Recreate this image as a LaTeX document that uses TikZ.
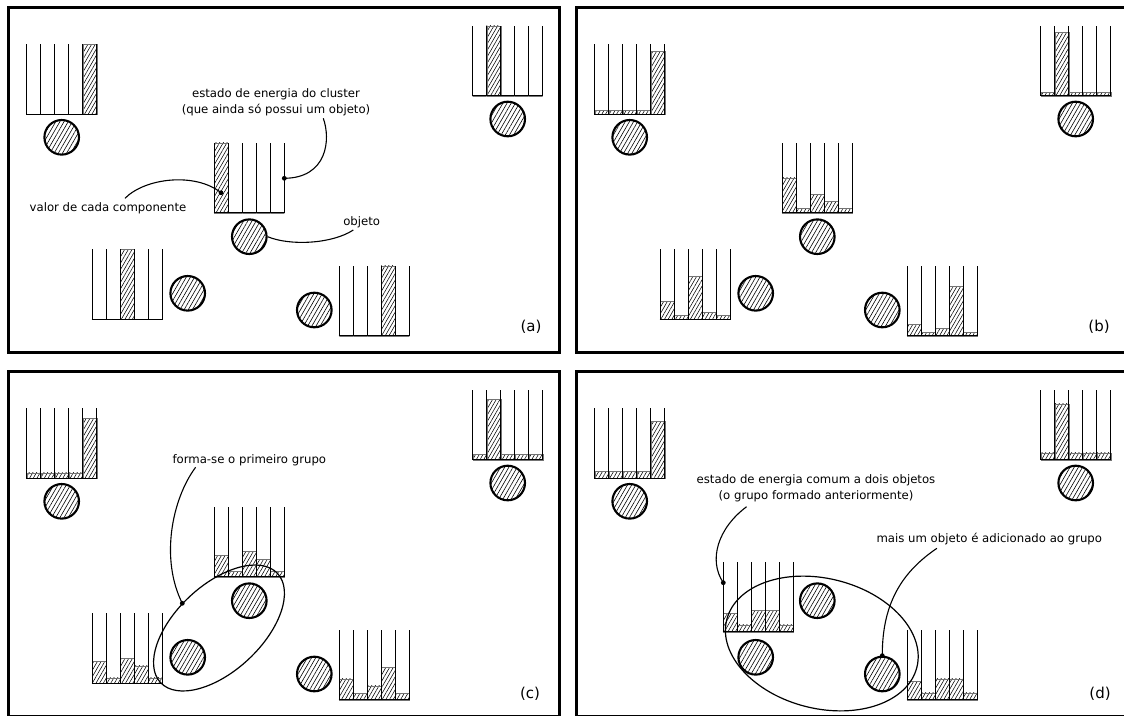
\documentclass[tikz,border=0pt]{standalone}
\usepackage{fontspec}
\setmainfont{DejaVu Sans}
\usetikzlibrary{patterns.meta}
\newcommand{\bars}[3]{%
  \foreach \v [count=\i from 0] in {#3} {
    \draw[hatchbar] ({#1+\i*14},#2) rectangle ({#1+\i*14+14},{#2-\v*70});
  }
  \foreach \i in {0,...,5} \draw[boxline] ({#1+\i*14},#2) -- ({#1+\i*14},{#2-70});
  \draw[boxline] ({#1-0.65},#2) -- ({#1+70.65},#2);
}
\newcommand{\objs}[1]{%
  \node[obj] (#1o1) at (61.7,137.3) {};
  \node[obj] (#1o2) at (507.7,119) {};
  \node[obj] (#1o3) at (249.3,236.7) {};
  \node[obj] (#1o4) at (187.7,293.3) {};
  \node[obj] (#1o5) at (314.3,310) {};
}
\begin{document}
\begin{tikzpicture}[x=1pt,y=-1pt,
  panel/.style={line width=3pt},
  boxline/.style={line width=1.3pt},
  hatchbar/.style={draw=black!55,line width=0.4pt,pattern={Lines[angle=60,distance=3.2pt,line width=0.55pt]}},
  obj/.style={circle,draw,line width=2.1pt,minimum size=34.6pt,inner sep=0pt,pattern={Lines[angle=60,distance=3.6pt,line width=0.6pt]}},
  lead/.style={line width=1.1pt},
  ann/.style={font=\fontsize{11.7}{16}\selectfont,align=center,inner sep=0pt},
  lab/.style={font=\fontsize{15}{18}\selectfont,inner sep=0pt},
  grpell/.style={line width=1.2pt}
]
\useasboundingbox (0,0) rectangle (1124,715);
\clip (0,0) rectangle (1124,715);

% ---------------- panel (a)
\begin{scope}
  \draw[panel] (8,7) rectangle (559,352.7);
  \bars{26.7}{114.3}{0,0,0,0,1}
  \bars{472.7}{95.7}{0,1,0,0,0}
  \bars{214.3}{212.7}{1,0,0,0,0}
  \bars{92.3}{319.3}{0,0,1,0,0}
  \bars{339.3}{335.7}{0,0,0,1,0}
  \objs{a}
  \node[ann] (ta1) at (276,102.2) {estado de energia do cluster\\(que ainda só possui um objeto)};
  \coordinate (ea1) at (323.3,118.3);
  \coordinate (da1) at (284.3,178.3);
  \draw[lead] (ea1) .. controls (331,140) and (327,178) .. (da1);
  \fill (da1) circle (2.4);
  \node[ann] (ta2) at (108,208.3) {valor de cada componente};
  \coordinate (ea2) at (125,198.3);
  \coordinate (da2) at (221,192.7);
  \draw[lead] (ea2) .. controls (145,178) and (195,172) .. (da2);
  \fill (da2) circle (2.4);
  \node[ann] (ta3) at (361.7,222.7) {objeto};
  \coordinate (ea3) at (353.3,230);
  \draw[lead] (ao3.east) .. controls (290,246) and (332,244) .. (ea3);
  \node[lab] (la) at (531,326.5) {(a)};
\end{scope}

% ---------------- panel (b)
\begin{scope}[shift={(568,0)}]
  \draw[panel] (8,7) rectangle (559,352.7);
  \bars{26.7}{114.3}{.06,.06,.06,.06,.9}
  \bars{472.7}{95.7}{.05,.91,.05,.05,.05}
  \bars{214.3}{212.7}{.5,.06,.26,.16,.06}
  \bars{92.3}{319.3}{.26,.06,.61,.1,.06}
  \bars{339.3}{335.7}{.16,.05,.11,.71,.05}
  \objs{b}
  \node[lab] (lb) at (531,326.5) {(b)};
\end{scope}

% ---------------- panel (c)
\begin{scope}[shift={(0,364)}]
  \draw[panel] (8,7) rectangle (559,352.7);
  \bars{26.7}{114.3}{.08,.08,.08,.08,.86}
  \bars{472.7}{95.7}{.08,.86,.08,.08,.08}
  \bars{214.3}{212.7}{.31,.08,.36,.25,.08}
  \bars{92.3}{319.3}{.31,.08,.36,.25,.08}
  \bars{339.3}{335.7}{.3,.09,.2,.46,.09}
  \objs{c}
  \draw[grpell,rotate around={43:(219,264)}] (219,264) ellipse [x radius=80,y radius=43];
  \node[ann] (tc1) at (249.3,96) {forma-se o primeiro grupo};
  \coordinate (ec1) at (195.6,103.3);
  \coordinate (dc1) at (182.3,239.3);
  \draw[lead] (ec1) .. controls (172,135) and (160,195) .. (dc1);
  \fill (dc1) circle (2.4);
  \node[lab] (lc) at (530,329.3) {(c)};
\end{scope}

% ---------------- panel (d)
\begin{scope}[shift={(568,364)}]
  \draw[panel] (8,7) rectangle (559,352.7);
  \bars{26.7}{114.3}{.1,.1,.1,.1,.81}
  \bars{472.7}{95.7}{.1,.8,.1,.1,.1}
  \bars{155.3}{267.7}{.26,.1,.31,.31,.1}
  \bars{339.3}{335.7}{.26,.1,.3,.3,.1}
  \objs{d}
  \draw[grpell,rotate around={-14:(253.8,279.5)}] (253.8,279.5) ellipse [x radius=98,y radius=65];
  \node[ann] (td1) at (248,124.7) {estado de energia comum a dois objetos\\(o grupo formado anteriormente)};
  \coordinate (ed1) at (178.6,142.7);
  \coordinate (dd1) at (155.3,218.7);
  \draw[lead] (ed1) .. controls (150,164) and (140,196) .. (dd1);
  \fill (dd1) circle (2.4);
  \node[ann] (td2) at (421.3,175) {mais um objeto é adicionado ao grupo};
  \coordinate (ed2) at (368.9,184.3);
  \draw[lead] (do5.north) .. controls (314,236) and (337,206) .. (ed2);
  \fill (do5.north) circle (2.4);
  \node[lab] (ld) at (532,330) {(d)};
\end{scope}
\end{tikzpicture}
\end{document}
